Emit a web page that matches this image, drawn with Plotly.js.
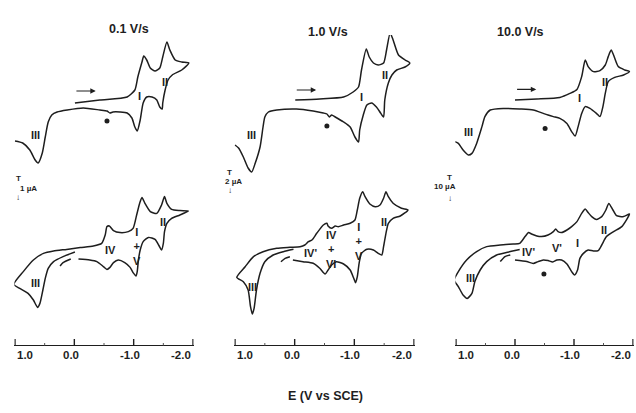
<!DOCTYPE html>
<html>
<head>
<meta charset="utf-8">
<script src="https://cdn.plot.ly/plotly-3.0.1.min.js"></script>
<style>html,body{margin:0;padding:0;background:#fff}#chart{width:636px;height:413px}</style>
</head>
<body>
<div id="chart"></div>
<script>
// ---- Data: potential E (V vs SCE) and current I (µA) ----
// Top row: first scan (0.1, 1.0, 10.0 V/s)
var tl_E = [-0.01,-0.43,-0.89,-1.02,-1.07,-1.14,-1.17,-1.22,-1.28,-1.36,-1.44,-1.49,-1.56,-1.61,-1.70,-1.81,-1.93,
  -1.81,-1.65,-1.58,-1.53,-1.49,-1.48,-1.44,-1.39,-1.31,-1.22,-1.16,-1.11,-1.06,-1.02,-0.97,-0.89,-0.77,-0.65,-0.60,-0.55,-0.43,-0.15,0.12,0.29,0.38,0.44,0.49,0.54,0.61,0.66,0.75,0.87,1.0];
var tl_I = [3.6,3.75,3.9,4.25,4.9,5.65,5.95,5.75,5.35,5.2,5.35,5.9,6.65,6.25,5.75,5.65,5.6,
  5.25,5.0,4.75,4.25,3.6,3.3,3.4,3.75,3.9,3.9,3.6,2.75,2.2,2.4,2.85,3.1,3.15,3.15,3.1,3.2,3.25,3.35,3.25,3.15,3.0,2.65,1.9,1.1,0.6,0.75,1.25,1.6,1.7];

var tm_E = [-0.01,-0.42,-0.82,-0.98,-1.07,-1.12,-1.20,-1.25,-1.32,-1.40,-1.49,-1.54,-1.60,-1.65,-1.74,-1.85,-1.93,
  -1.85,-1.71,-1.63,-1.57,-1.51,-1.49,-1.44,-1.37,-1.29,-1.21,-1.15,-1.09,-1.07,-1.01,-0.93,-0.82,-0.68,-0.62,-0.58,-0.54,-0.48,-0.31,-0.03,0.30,0.44,0.50,0.53,0.58,0.66,0.72,0.78,0.86,0.94,1.0];
var tm_I = [7.5,7.6,7.8,8.3,8.8,10.5,12.6,11.8,11.2,11.0,11.2,12.5,14.2,13.5,12.0,11.5,11.2,
  10.8,10.5,10.0,9.2,7.5,5.8,6.2,6.8,7.2,7.0,6.0,4.5,3.3,3.8,4.8,5.3,5.8,6.0,5.8,6.1,6.2,6.4,6.6,6.5,6.3,5.8,4.8,2.8,1.2,0.3,0.7,1.8,2.7,3.0];

var tr_E = [0.0,-0.37,-0.76,-0.93,-1.05,-1.13,-1.19,-1.24,-1.33,-1.44,-1.53,-1.58,-1.63,-1.67,-1.75,-1.86,-1.94,
  -1.84,-1.69,-1.58,-1.53,-1.49,-1.44,-1.38,-1.27,-1.19,-1.13,-1.07,-1.02,-0.96,-0.88,-0.76,-0.65,-0.56,-0.48,-0.31,-0.08,0.20,0.42,0.51,0.56,0.65,0.73,0.79,0.88,0.96,1.02];
var tr_I = [37.5,38,38.8,40.8,42.8,49.2,57.5,54.2,51.7,52.2,55,59.2,62.5,60,54.2,52.5,51.7,
  50,48.8,46.7,40.8,34.2,29.2,30.8,33.3,34.2,30.8,24.2,19.5,21.7,25.8,28.3,29.2,30,30.8,32.5,33,33.3,32.5,29.2,24.2,15.8,10.8,10,12.5,15.8,16.7];

// Bottom row: continued (multi-sweep) scans
var bl_E = [-0.07,-0.26,-0.38,-0.49,-0.55,-0.60,-0.66,-0.74,-0.85,-0.94,-0.99,-1.04,-1.06,-1.08,-1.11,-1.16,-1.25,-1.36,-1.43,-1.47,
  -1.50,-1.52,-1.56,-1.64,-1.78,-1.92,-1.78,-1.64,-1.56,-1.52,-1.47,-1.39,-1.28,-1.19,-1.14,-1.10,-1.05,-0.99,-0.91,-0.77,
  -0.66,-0.59,-0.55,-0.52,-0.46,-0.32,-0.10,0.13,0.35,0.52,0.69,0.86,1.02,0.92,0.78,0.69,0.62,0.58,0.53,0.49,0.44,0.35,0.19,-0.01];
var bl_I = [4.3,4.25,4.17,3.92,3.78,3.88,4.12,4.25,4.12,3.88,3.62,3.45,3.67,4.25,4.75,5.17,5.38,5.28,4.95,4.75,
  5.08,5.67,6.08,6.33,6.5,6.7,6.72,6.78,7.08,7.42,7.0,6.58,6.67,7.08,7.38,7.08,6.5,5.83,5.67,5.62,
  5.72,5.95,5.92,5.5,5.08,4.95,4.87,4.78,4.7,4.58,4.25,3.67,3.03,2.83,2.58,2.25,1.88,2.08,2.75,3.33,3.83,4.17,4.42,4.65];
var bl_fragE = [0.24,0.19,0.06];
var bl_fragI = [3.95,4.12,4.3];

var bm_E = [0.03,-0.14,-0.31,-0.42,-0.51,-0.56,-0.62,-0.70,-0.82,-0.93,-0.99,-1.02,-1.05,-1.08,-1.12,-1.21,-1.32,-1.40,-1.46,-1.49,
  -1.53,-1.57,-1.65,-1.77,-1.90,-1.79,-1.65,-1.57,-1.53,-1.49,-1.43,-1.35,-1.26,-1.18,-1.14,-1.09,-1.05,-1.01,-0.93,-0.82,
  -0.73,-0.68,-0.62,-0.56,-0.54,-0.48,-0.37,-0.29,-0.23,-0.17,-0.09,0.08,0.30,0.53,0.69,0.83,0.97,0.86,0.78,0.74,
  0.71,0.68,0.64,0.58,0.50,0.36,0.19,0.02];
var bm_I = [8.5,8.33,8.17,7.67,7.1,7.5,8.0,8.33,8.1,7.5,6.67,6.23,6.83,8.17,9.17,9.57,9.5,9.17,9.0,9.83,
  11.17,12.17,12.67,12.9,13.5,13.67,14.17,14.83,15.33,14.67,14.0,13.83,14.1,14.83,15.33,14.67,13.5,12.5,12.17,12.0,
  11.83,11.9,11.67,11.9,12.17,12.0,11.17,10.5,10.33,10.0,9.83,9.77,9.67,9.33,8.83,7.83,6.77,6.33,5.5,3.83,
  3.1,3.67,5.5,7.17,8.33,9.0,9.33,9.57];
var bm_fragE = [0.23,0.16,0.08];
var bm_fragI = [8.33,8.67,8.83];

var br_E = [0.0,-0.20,-0.31,-0.39,-0.48,-0.56,-0.64,-0.71,-0.79,-0.88,-0.96,-1.01,-1.06,-1.10,-1.16,-1.24,-1.33,-1.41,-1.47,-1.55,
  -1.67,-1.81,-1.94,-1.84,-1.72,-1.66,-1.59,-1.54,-1.47,-1.38,-1.30,-1.24,-1.19,-1.13,-1.05,-0.96,-0.88,-0.79,-0.73,-0.69,
  -0.65,-0.56,-0.45,-0.37,-0.28,-0.23,-0.17,-0.08,0.03,0.25,0.48,0.65,0.82,0.96,1.03,0.96,0.88,0.81,0.73,0.68,
  0.59,0.48,0.31,0.08,-0.08];
var br_I = [42.5,41.7,40.8,41.7,42.5,42.2,41.5,42.5,42.5,40.5,36.7,35,37.5,43.3,45.8,47.5,47,47.2,50,54.2,
  56.7,59.2,65.5,64.2,64.7,67.5,70.8,67.5,64.2,62.8,64.2,66.2,68,65.8,61.7,59.2,57.5,56.2,56.7,58,
  56.7,55,54.2,54.5,55.5,56.2,54.2,50.8,50.5,50,49.2,46.7,42.5,36.7,32.5,29.2,25,23.3,25.8,31.7,
  37.5,41.7,45,46.7,47.8];
var br_fragE = [0.25,0.17,0.08];
var br_fragI = [41.7,44.2,45];

// Unassigned-peak markers (*)
var star_E = [-0.55,-0.54,-0.51,-0.49];
var star_I = [2.7,4.9,23.3,35.5];

// Column / axis text
var scanRates = ['0.1 V/s','1.0 V/s','10.0 V/s'];
var scaleBars = ['1 µA','2 µA','10 µA'];
var tickVals = [1,0,-1,-2];
var minorVals = [0.5,-0.5,-1.5];
var tickText = ['1.0','0.0','-1.0','-2.0'];
var xTitle = 'E (V vs SCE)';

// ---- Layout geometry (pixels in a 636x413 page) ----
var W = 636, H = 413;
function px(x){return x/W;}
function py(y){return 1 - y/H;}
var colPx = [[15,193],[235,414],[456,633]];
var topDom = [py(175), py(35)];
var botDom = [py(345), py(185)];
var topMax = [7,14,70];
var botMax = [8,16,80];

var INK = '#1e1e1e';
var FONT = 'Liberation Sans, Arial, sans-serif';

function line(E, I, xa, ya){
  return {x:E, y:I, xaxis:xa, yaxis:ya, type:'scatter', mode:'lines',
    line:{color:INK, width:1.5, shape:'spline', smoothing:0.6}, hoverinfo:'skip', showlegend:false};
}
var traces = [
  line(tl_E, tl_I, 'x4','y4'),
  line(tm_E, tm_I, 'x5','y5'),
  line(tr_E, tr_I, 'x6','y6'),
  line(bl_E, bl_I, 'x','y'),
  line(bl_fragE, bl_fragI, 'x','y'),
  line(bm_E, bm_I, 'x2','y2'),
  line(bm_fragE, bm_fragI, 'x2','y2'),
  line(br_E, br_I, 'x3','y3'),
  line(br_fragE, br_fragI, 'x3','y3')
];
var starAx = [['x4','y4'],['x5','y5'],['x6','y6'],['x3','y3']];
for (var s=0; s<star_E.length; s++){
  traces.push({x:[star_E[s]], y:[star_I[s]], xaxis:starAx[s][0], yaxis:starAx[s][1], type:'scatter', mode:'markers',
    marker:{symbol:'circle', size:5, color:INK}, hoverinfo:'skip', showlegend:false});
}

var layout = {width:W, height:H, margin:{l:0,r:0,t:0,b:0}, paper_bgcolor:'#fff', plot_bgcolor:'rgba(0,0,0,0)',
  showlegend:false, font:{family:FONT, color:INK}};

var names = ['','2','3','4','5','6'];
var R = [1.01, -2.01];
for (var c=0;c<3;c++){
  var dom = [px(colPx[c][0]-0.6), px(colPx[c][1]+0.6)];
  // bottom row axes (visible x line; tick marks drawn below as shapes)
  layout['xaxis'+names[c]] = {domain:dom, range:R, anchor:'y'+names[c],
    tickvals:tickVals, ticktext:tickText, showticklabels:false, ticks:'',
    showline:true, linecolor:INK, linewidth:1.4, showgrid:false, zeroline:false, fixedrange:true};
  layout['yaxis'+names[c]] = {domain:botDom, range:[0, botMax[c]], anchor:'x'+names[c], visible:false, fixedrange:true};
  // top row axes (hidden)
  layout['xaxis'+names[c+3]] = {domain:dom, range:R, anchor:'y'+names[c+3], visible:false, fixedrange:true};
  layout['yaxis'+names[c+3]] = {domain:topDom, range:[0, topMax[c]], anchor:'x'+names[c+3], visible:false, fixedrange:true};
}

// Tick marks (pointing up from the axis line)
var shapes = [];
var xaNames = ['x','x2','x3'];
for (var c=0;c<3;c++){
  tickVals.forEach(function(v){
    shapes.push({type:'line', xref:xaNames[c], yref:'paper', x0:v, x1:v, y0:py(345.5), y1:py(339),
      line:{color:INK, width:1.4}});
  });
  minorVals.forEach(function(v){
    shapes.push({type:'line', xref:xaNames[c], yref:'paper', x0:v, x1:v, y0:py(345.5), y1:py(343),
      line:{color:'#555', width:1}});
  });
}
layout.shapes = shapes;

var ann = [];
function lab(t, x, y, xa, ya){
  ann.push({text:t, x:x, y:y, xref:xa, yref:ya, showarrow:false,
    font:{family:FONT, size:11, color:INK, weight:'bold'}});
}
// Peak labels
lab('III', 0.66, 2.0, 'x4','y4'); lab('I', -1.09, 3.95, 'x4','y4'); lab('II', -1.53, 4.65, 'x4','y4');
lab('III', 0.72, 4.0, 'x5','y5'); lab('I', -1.12, 7.8, 'x5','y5'); lab('II', -1.51, 10.0, 'x5','y5');
lab('III', 0.79, 21.7, 'x6','y6'); lab('I', -1.10, 38.3, 'x6','y6'); lab('II', -1.53, 46.7, 'x6','y6');

lab('III', 0.66, 3.08, 'x','y'); lab('IV', -0.61, 4.75, 'x','y'); lab('II', -1.50, 6.17, 'x','y');
lab('I<br>+<br>V', -1.05, 4.95, 'x','y');

lab('III', 0.70, 5.83, 'x2','y2'); lab("IV'", -0.26, 9.17, 'x2','y2'); lab('II', -1.49, 12.33, 'x2','y2');
lab('IV<br>+<br>VI', -0.62, 9.6, 'x2','y2');
lab('I<br>+<br>V', -1.07, 10.4, 'x2','y2');

lab('III', 0.76, 33.3, 'x3','y3'); lab("IV'", -0.23, 46.7, 'x3','y3'); lab("V'", -0.71, 48.3, 'x3','y3');
lab('I', -1.06, 50.8, 'x3','y3'); lab('II', -1.50, 57.5, 'x3','y3');

// Scan-direction arrows (top row)
var arrowSpec = [['x4','y4',4.2],['x5','y5',8.5],['x6','y6',42.8]];
arrowSpec.forEach(function(a){
  ann.push({text:'', x:-0.36, y:a[2], ax:-0.01, ay:a[2], xref:a[0], yref:a[1], axref:a[0], ayref:a[1],
    showarrow:true, arrowhead:2, arrowsize:0.9, arrowwidth:1.2, arrowcolor:INK});
});

// Tick labels (placed within the axis extent as in the original)
var tlAnchor = ['left','center','center','right'];
var tlShift = [0,-3,-4,0];
for (var c=0;c<3;c++){
  for (var t=0;t<tickVals.length;t++){
    ann.push({text:tickText[t], x:tickVals[t], y:py(363), xref:xaNames[c], yref:'paper', showarrow:false,
      xanchor:tlAnchor[t], xshift:tlShift[t], font:{family:FONT, size:11.5, color:INK, weight:'bold'}});
  }
}

// Column titles
var titleX = [107, 328, 546], titleY = [20, 23, 23];
for (var k=0;k<3;k++){
  ann.push({text:scanRates[k], x:px(titleX[k]), y:py(titleY[k]), xref:'paper', yref:'paper', showarrow:false,
    font:{family:FONT, size:12.5, color:INK, weight:'bold'}});
}
// Scale bars
var sbX = [15, 231, 455], sbY = [[178,188,197],[172,181,191],[177,186,198]];
for (var k=0;k<3;k++){
  var f = {family:FONT, size:8, color:INK, weight:'bold'};
  ann.push({text:'T', x:px(sbX[k]-1), y:py(sbY[k][0]), xref:'paper', yref:'paper', showarrow:false, font:f});
  ann.push({text:scaleBars[k], x:px(sbX[k]+3), y:py(sbY[k][1]), xref:'paper', yref:'paper', showarrow:false, font:f});
  ann.push({text:'↓', x:px(sbX[k]-1), y:py(sbY[k][2]), xref:'paper', yref:'paper', showarrow:false, font:f});
}
// Shared x-axis title
ann.push({text:xTitle, x:px(325), y:py(405), xref:'paper', yref:'paper', showarrow:false,
  font:{family:FONT, size:12.5, color:INK, weight:'bold'}});

layout.annotations = ann;

Plotly.newPlot('chart', traces, layout, {staticPlot:true, displayModeBar:false});
</script>
</body>
</html>
